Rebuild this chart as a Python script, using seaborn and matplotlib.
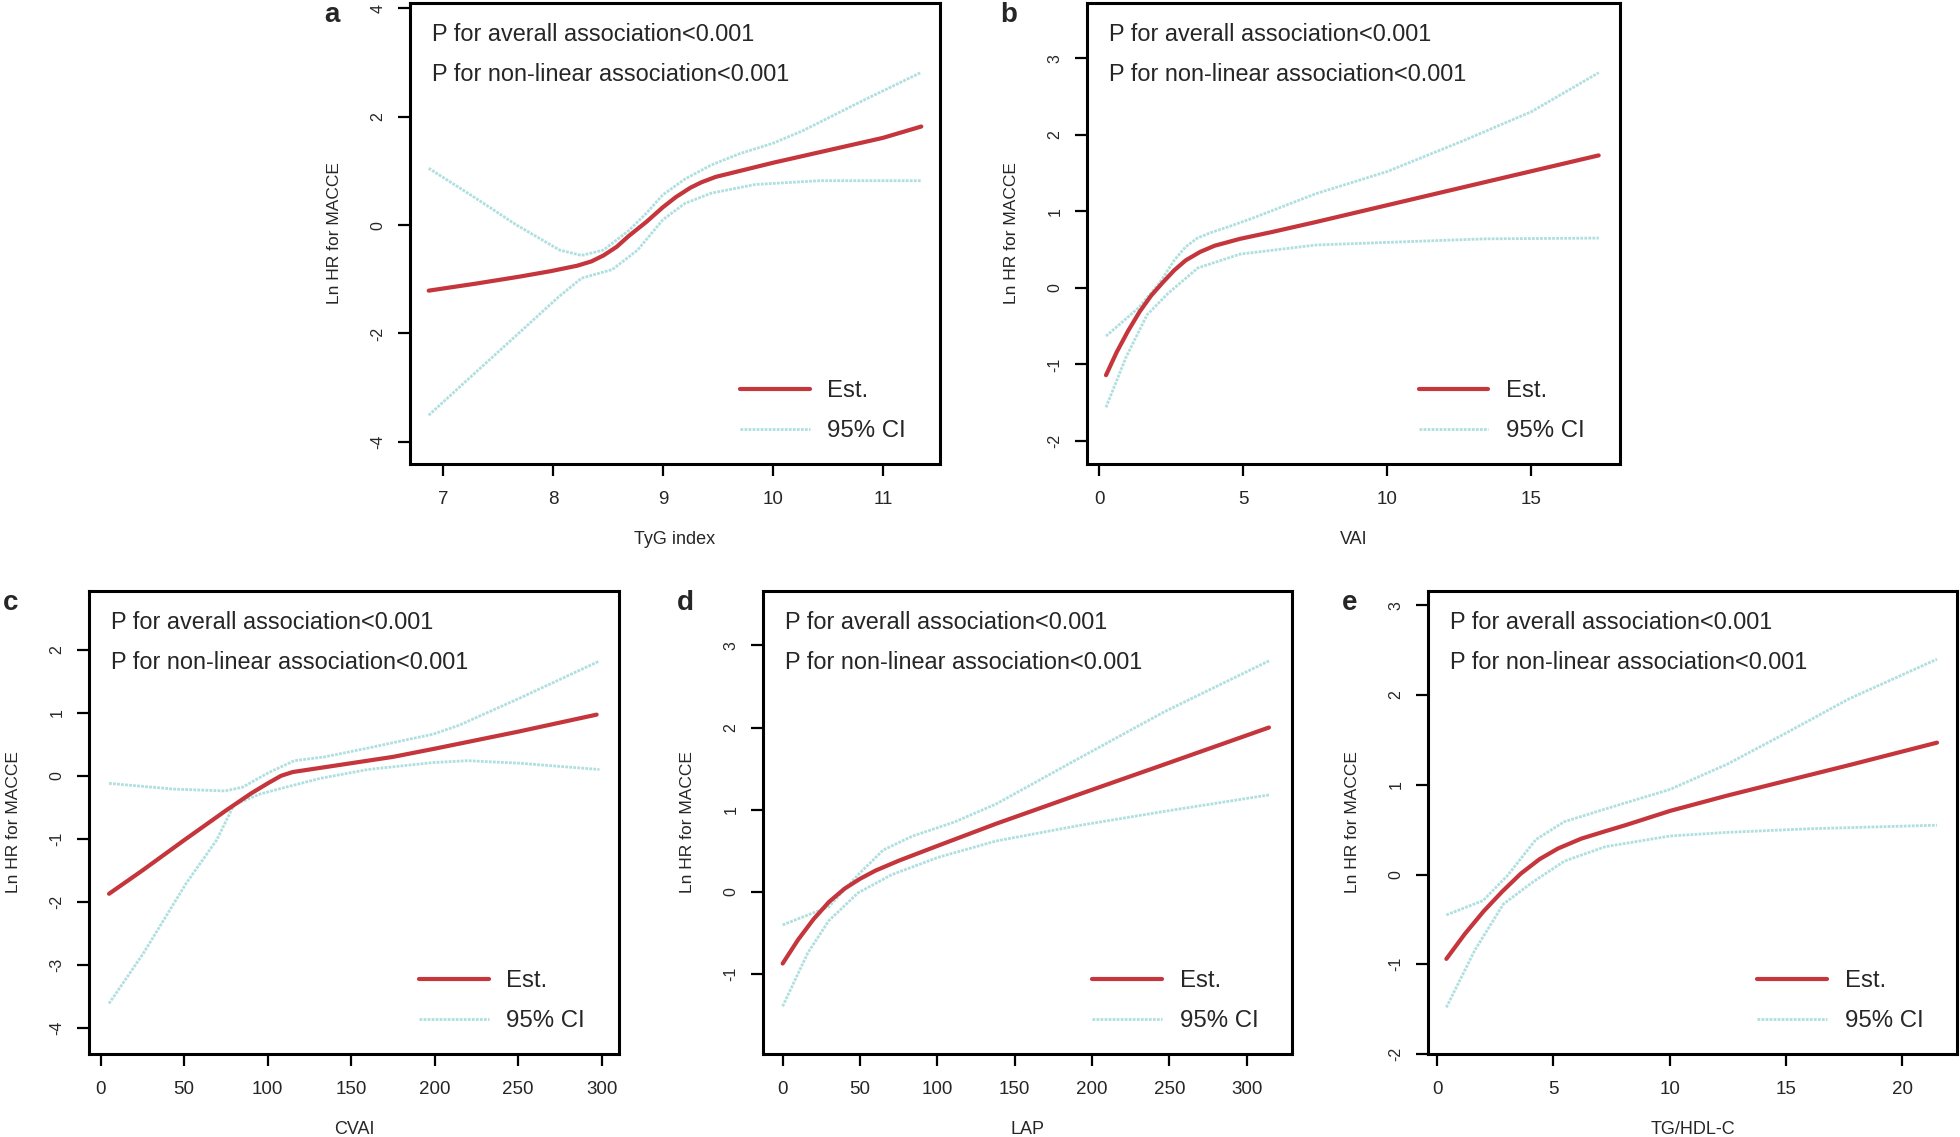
import numpy as np
import pandas as pd
import matplotlib
matplotlib.use("Agg")
import matplotlib.pyplot as plt
import seaborn as sns

# ---------------- data ----------------
# Panel a: TyG index
tyg_est_x = [6.87, 7.3, 7.7, 7.98, 8.22, 8.35, 8.46, 8.58, 8.69, 8.85, 9.0, 9.12, 9.25, 9.35, 9.48, 9.7, 10.0, 10.5, 11.0, 11.35]
tyg_est_y = [-1.21, -1.08, -0.95, -0.85, -0.75, -0.67, -0.56, -0.40, -0.20, 0.06, 0.33, 0.52, 0.69, 0.79, 0.89, 1.00, 1.15, 1.38, 1.61, 1.82]
tyg_up_x = [6.87, 7.28, 7.67, 8.06, 8.26, 8.46, 8.69, 8.85, 9.0, 9.2, 9.44, 9.7, 10.0, 10.27, 10.82, 11.35]
tyg_up_y = [1.05, 0.52, 0.0, -0.46, -0.56, -0.46, -0.10, 0.22, 0.56, 0.85, 1.11, 1.32, 1.51, 1.74, 2.30, 2.82]
tyg_lo_x = [6.87, 7.28, 7.67, 8.06, 8.26, 8.54, 8.77, 9.0, 9.2, 9.44, 9.84, 10.43, 11.35]
tyg_lo_y = [-3.51, -2.75, -2.03, -1.31, -0.98, -0.82, -0.46, 0.10, 0.40, 0.59, 0.75, 0.82, 0.82]

# Panel b: VAI
vai_est_x = [0.23, 0.6, 1.0, 1.4, 1.8, 2.2, 2.6, 3.0, 3.5, 4.0, 4.88, 6.0, 7.52, 10.45, 13.38, 17.34]
vai_est_y = [-1.14, -0.84, -0.56, -0.31, -0.10, 0.07, 0.23, 0.36, 0.47, 0.55, 0.64, 0.73, 0.86, 1.12, 1.38, 1.73]
vai_up_x = [0.23, 1.36, 2.1, 2.6, 2.98, 3.4, 3.86, 4.5, 5.32, 7.52, 10.0, 12.5, 15.0, 17.34]
vai_up_y = [-0.63, -0.26, 0.07, 0.36, 0.53, 0.65, 0.72, 0.80, 0.91, 1.23, 1.52, 1.90, 2.30, 2.81]
vai_lo_x = [0.23, 0.92, 1.66, 2.39, 3.42, 4.88, 7.52, 10.45, 13.38, 17.34]
vai_lo_y = [-1.56, -0.91, -0.35, -0.07, 0.26, 0.44, 0.56, 0.60, 0.64, 0.65]

# Panel c: CVAI
cvai_est_x = [5, 25, 50, 75, 90, 100, 108, 115, 125, 150, 175, 200, 250, 297]
cvai_est_y = [-1.87, -1.50, -1.02, -0.55, -0.28, -0.12, 0.0, 0.06, 0.10, 0.20, 0.30, 0.43, 0.70, 0.97]
cvai_up_x = [5, 43.5, 74.6, 85, 100.5, 116, 134, 160, 199, 214.5, 250.8, 298.7]
cvai_up_y = [-0.12, -0.21, -0.24, -0.18, 0.05, 0.24, 0.30, 0.44, 0.66, 0.80, 1.23, 1.82]
cvai_lo_x = [5, 25.4, 51.3, 69.4, 79.8, 95.3, 110.9, 131.6, 160, 199, 219.7, 250.8, 298.7]
cvai_lo_y = [-3.61, -2.82, -1.70, -1.02, -0.46, -0.29, -0.18, -0.04, 0.10, 0.21, 0.24, 0.20, 0.10]

# Panel d: LAP
lap_est_x = [0, 10, 20, 30, 40, 50, 60, 75, 100, 138, 192, 246.6, 314.4]
lap_est_y = [-0.87, -0.58, -0.33, -0.12, 0.04, 0.16, 0.26, 0.38, 0.56, 0.83, 1.19, 1.55, 2.00]
lap_up_x = [0, 29.8, 48.8, 65, 84, 111, 138, 192, 246.6, 314.4]
lap_up_y = [-0.40, -0.18, 0.21, 0.51, 0.68, 0.85, 1.07, 1.63, 2.19, 2.81]
lap_lo_x = [0, 16.3, 29.8, 48.8, 70.5, 100.3, 138, 192, 246.6, 314.4]
lap_lo_y = [-1.39, -0.74, -0.35, -0.01, 0.21, 0.42, 0.62, 0.81, 0.98, 1.18]

# Panel e: TG/HDL-C
tg_est_x = [0.4, 1.2, 2.0, 2.8, 3.6, 4.4, 5.2, 6.2, 7.2, 8.1, 10.03, 12.48, 15.1, 17.73, 21.5]
tg_est_y = [-0.94, -0.66, -0.41, -0.19, 0.01, 0.17, 0.29, 0.40, 0.48, 0.55, 0.71, 0.88, 1.05, 1.22, 1.47]
tg_up_x = [0.4, 1.98, 3.03, 4.25, 5.48, 7.23, 10.03, 12.48, 15.1, 17.73, 21.5]
tg_up_y = [-0.45, -0.29, -0.01, 0.39, 0.59, 0.73, 0.95, 1.23, 1.59, 1.96, 2.40]
tg_lo_x = [0.4, 1.63, 2.85, 4.08, 5.48, 7.23, 10.03, 12.48, 15.98, 21.5]
tg_lo_y = [-1.48, -0.84, -0.33, -0.09, 0.15, 0.31, 0.43, 0.47, 0.51, 0.55]

panel_letters = ["a", "b", "c", "d", "e"]
x_labels = ["TyG index", "VAI", "CVAI", "LAP", "TG/HDL-C"]
y_label = "Ln HR for MACCE"
p_text_1 = "P for averall association<0.001"
p_text_2 = "P for non-linear association<0.001"
legend_labels = ["Est.", "95% CI"]

x_ticks = [[7, 8, 9, 10, 11], [0, 5, 10, 15], [0, 50, 100, 150, 200, 250, 300],
           [0, 50, 100, 150, 200, 250, 300], [0, 5, 10, 15, 20]]
y_ticks = [[-4, -2, 0, 2, 4], [-2, -1, 0, 1, 2, 3], [-4, -3, -2, -1, 0, 1, 2],
           [-1, 0, 1, 2, 3], [-2, -1, 0, 1, 2, 3]]

# ---------------- styling / layout ----------------
sns.set_style("white")
plt.rcParams['font.family'] = ['Liberation Sans', 'DejaVu Sans']

W, H = 1960, 1137
fig = plt.figure(figsize=(W / 100, H / 100), dpi=100)

# boxes in pixels: (left, right, top, bottom)
boxes = [(410, 940, 3, 464), (1087, 1620, 3, 464),
         (89, 619, 591, 1054), (763, 1292, 591, 1054), (1428, 1957, 591, 1054)]
xlims = [(6.70, 11.52), (-0.43, 18.08), (-7.0, 310.4), (-12.7, 329.3), (-0.39, 22.36)]
ylims = [(-4.41, 4.10), (-2.30, 3.72), (-4.41, 2.93), (-1.97, 3.66), (-2.0, 3.16)]

series = [
    (tyg_est_x, tyg_est_y, tyg_up_x, tyg_up_y, tyg_lo_x, tyg_lo_y),
    (vai_est_x, vai_est_y, vai_up_x, vai_up_y, vai_lo_x, vai_lo_y),
    (cvai_est_x, cvai_est_y, cvai_up_x, cvai_up_y, cvai_lo_x, cvai_lo_y),
    (lap_est_x, lap_est_y, lap_up_x, lap_up_y, lap_lo_x, lap_lo_y),
    (tg_est_x, tg_est_y, tg_up_x, tg_up_y, tg_lo_x, tg_lo_y),
]

RED = "#c4353c"
CI = "#b0dfdf"
CI_STYLE = (0, (1.0, 0.45))

for i, (l, r, t, b) in enumerate(boxes):
    ax = fig.add_axes([l / W, 1 - b / H, (r - l) / W, (b - t) / H])
    ex, ey, ux, uy, lx, ly = series[i]
    sns.lineplot(x=ux, y=uy, ax=ax, color=CI, lw=2.0, linestyle=CI_STYLE,
                 label=legend_labels[1], sort=False)
    sns.lineplot(x=lx, y=ly, ax=ax, color=CI, lw=2.0, linestyle=CI_STYLE, sort=False)
    sns.lineplot(x=ex, y=ey, ax=ax, color=RED, lw=3.0, label=legend_labels[0], sort=False)

    ax.set_xlim(*xlims[i])
    ax.set_ylim(*ylims[i])
    ax.set_xticks(x_ticks[i])
    ax.set_yticks(y_ticks[i])
    ax.set_xticklabels([str(v) for v in x_ticks[i]], fontsize=13.5)
    ax.set_yticklabels([str(v) for v in y_ticks[i]], fontsize=11.5, rotation=90, va="center")
    ax.tick_params(axis="both", direction="out", length=8.6, width=1.6, color="black",
                   left=True, bottom=True)
    ax.tick_params(axis="x", pad=11)
    ax.tick_params(axis="y", pad=9)
    for sp in ax.spines.values():
        sp.set_visible(True)
        sp.set_color("black")
        sp.set_linewidth(2.2)

    ax.set_xlabel(x_labels[i], fontsize=13)
    ax.set_ylabel(y_label, fontsize=12.5)
    wpx, hpx = r - l, b - t
    ax.xaxis.set_label_coords(0.5, -75 / hpx)
    ax.yaxis.set_label_coords(-68 / wpx, 0.5)
    ax.xaxis.label.set_va("center")

    ax.text(0.041, 0.917, p_text_1, transform=ax.transAxes, fontsize=16.9, va="baseline")
    ax.text(0.041, 0.831, p_text_2, transform=ax.transAxes, fontsize=16.9, va="baseline")

    handles, labels = ax.get_legend_handles_labels()
    order = [labels.index(legend_labels[0]), labels.index(legend_labels[1])]
    ax.legend([handles[k] for k in order], [labels[k] for k in order],
              loc="lower left", bbox_to_anchor=(0.622, 0.047), frameon=False,
              fontsize=17.3, handlelength=2.91, handletextpad=0.74, labelspacing=0.75,
              borderpad=0, borderaxespad=0)

    fig.text((l - 78) / W, 1 - (t + 12) / H, panel_letters[i], fontsize=20,
             fontweight="bold", ha="center", va="center")

fig.savefig("out.png", dpi=100, facecolor="white")
